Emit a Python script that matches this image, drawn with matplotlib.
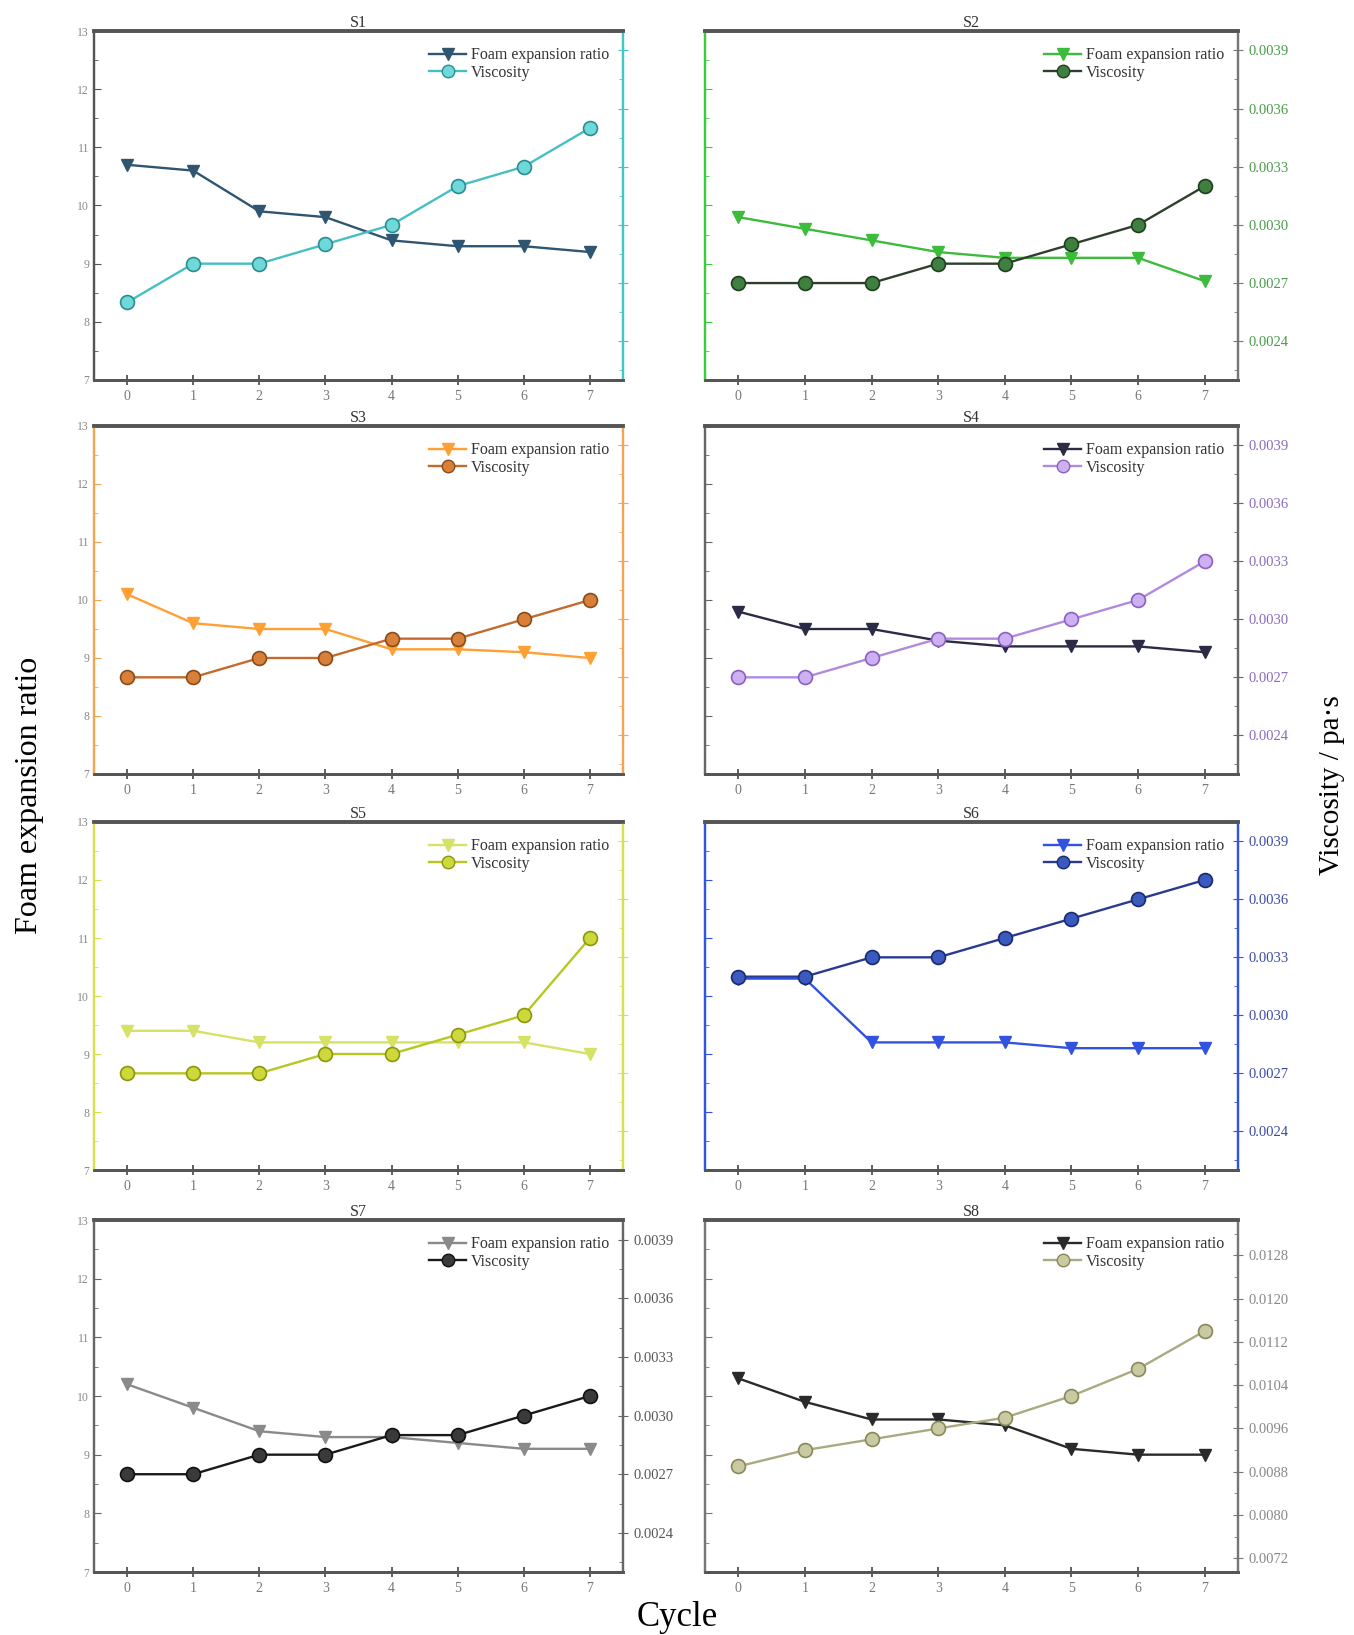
import matplotlib
matplotlib.use("Agg")
import matplotlib.pyplot as plt
from matplotlib.ticker import MultipleLocator, FormatStrFormatter, NullFormatter
from matplotlib.lines import Line2D

plt.rcParams['font.family'] = ['Liberation Serif', 'DejaVu Serif']

cycles = [0, 1, 2, 3, 4, 5, 6, 7]
panels = ["S1", "S2", "S3", "S4", "S5", "S6", "S7", "S8"]

foam_s1 = [10.7, 10.6, 9.9, 9.8, 9.4, 9.3, 9.3, 9.2]
foam_s2 = [9.8, 9.6, 9.4, 9.2, 9.1, 9.1, 9.1, 8.7]
foam_s3 = [10.1, 9.6, 9.5, 9.5, 9.15, 9.15, 9.1, 9.0]
foam_s4 = [9.8, 9.5, 9.5, 9.3, 9.2, 9.2, 9.2, 9.1]
foam_s5 = [9.4, 9.4, 9.2, 9.2, 9.2, 9.2, 9.2, 9.0]
foam_s6 = [10.3, 10.3, 9.2, 9.2, 9.2, 9.1, 9.1, 9.1]
foam_s7 = [10.2, 9.8, 9.4, 9.3, 9.3, 9.2, 9.1, 9.1]
foam_s8 = [10.3, 9.9, 9.6, 9.6, 9.5, 9.1, 9.0, 9.0]

visc_s1 = [0.0026, 0.0028, 0.0028, 0.0029, 0.0030, 0.0032, 0.0033, 0.0035]
visc_s2 = [0.0027, 0.0027, 0.0027, 0.0028, 0.0028, 0.0029, 0.0030, 0.0032]
visc_s3 = [0.0027, 0.0027, 0.0028, 0.0028, 0.0029, 0.0029, 0.0030, 0.0031]
visc_s4 = [0.0027, 0.0027, 0.0028, 0.0029, 0.0029, 0.0030, 0.0031, 0.0033]
visc_s5 = [0.0027, 0.0027, 0.0027, 0.0028, 0.0028, 0.0029, 0.0030, 0.0034]
visc_s6 = [0.0032, 0.0032, 0.0033, 0.0033, 0.0034, 0.0035, 0.0036, 0.0037]
visc_s7 = [0.0027, 0.0027, 0.0028, 0.0028, 0.0029, 0.0029, 0.0030, 0.0031]
visc_s8 = [0.0089, 0.0092, 0.0094, 0.0096, 0.0098, 0.0102, 0.0107, 0.0114]

foam_all = [foam_s1, foam_s2, foam_s3, foam_s4, foam_s5, foam_s6, foam_s7, foam_s8]
visc_all = [visc_s1, visc_s2, visc_s3, visc_s4, visc_s5, visc_s6, visc_s7, visc_s8]

# per-panel styling: foam colour, viscosity line, viscosity marker face, marker edge,
# left spine, right spine, right tick-label colour
styles = [
    dict(foam="#2f5571", vline="#46bfc2", vface="#6fd8d8", vedge="#2a8d92",
         lsp="#555555", rsp="#45c6c6", rlab=None),
    dict(foam="#3dbb3d", vline="#2f3f2f", vface="#3f7f3f", vedge="#1f3f1f",
         lsp="#3acc3a", rsp="#777777", rlab="#4a9a4a"),
    dict(foam="#ffa035", vline="#c46a2c", vface="#d8803a", vedge="#8a4a1a",
         lsp="#f2a655", rsp="#f2a655", rlab=None),
    dict(foam="#2b2b45", vline="#b08ade", vface="#cdb0f2", vedge="#8a60c0",
         lsp="#666666", rsp="#666666", rlab="#8a6ac0"),
    dict(foam="#d6e266", vline="#b8c622", vface="#cdd83a", vedge="#8a9610",
         lsp="#d8e050", rsp="#d8e050", rlab=None),
    dict(foam="#3252e0", vline="#2a3a90", vface="#3a5ac0", vedge="#1a2a70",
         lsp="#3355dd", rsp="#3355dd", rlab="#3a4aa8"),
    dict(foam="#8a8a8a", vline="#1a1a1a", vface="#3a3a3a", vedge="#111111",
         lsp="#666666", rsp="#666666", rlab="#555555"),
    dict(foam="#2a2a2a", vline="#aaaa80", vface="#cacaa2", vedge="#88885a",
         lsp="#777777", rsp="#777777", rlab="#888888"),
]

W, H = 1354, 1635
fig = plt.figure(figsize=(W / 100, H / 100), dpi=100)

col_x = [(94, 529), (705, 533)]
row_y = [(31, 349), (426, 348), (822, 348), (1220, 352)]

for i, name in enumerate(panels):
    r, c = divmod(i, 2)
    x0, w = col_x[c]
    y0, h = row_y[r]
    ax = fig.add_axes([x0 / W, 1 - (y0 + h) / H, w / W, h / H])
    ax2 = ax.twinx()
    st = styles[i]

    ax.plot(cycles, foam_all[i], color=st["foam"], lw=1.7, marker="v",
            ms=9, mfc=st["foam"], mec=st["foam"], zorder=3)
    ax2.plot(cycles, visc_all[i], color=st["vline"], lw=1.7, marker="o",
             ms=10, mfc=st["vface"], mec=st["vedge"], mew=1.2, zorder=3)

    ax.set_xlim(-0.5, 7.5)
    ax.set_ylim(7, 13)
    ax.set_xticks(cycles)
    ax.yaxis.set_major_locator(MultipleLocator(1))
    ax.yaxis.set_minor_locator(MultipleLocator(0.5))

    if i == 7:
        ax2.set_ylim(0.00695, 0.01345)
        ax2.yaxis.set_major_locator(MultipleLocator(0.0008))
        ax2.yaxis.set_minor_locator(MultipleLocator(0.0004))
    else:
        ax2.set_ylim(0.0022, 0.0040)
        ax2.yaxis.set_major_locator(MultipleLocator(0.0003))
        ax2.yaxis.set_minor_locator(MultipleLocator(0.00015))
    ax2.yaxis.set_major_formatter(FormatStrFormatter("%.4f"))

    ax.tick_params(axis="x", direction="inout", length=7, width=1.2,
                   colors="#444444", labelcolor="#777777", labelsize=10, pad=4)
    ax.tick_params(axis="y", which="major", direction="in", length=5,
                   color=st["lsp"], labelcolor="#888888", labelsize=8.5)
    ax.tick_params(axis="y", which="minor", direction="in", length=3,
                   color=st["lsp"])
    if c == 1:
        ax.yaxis.set_major_formatter(NullFormatter())

    ax2.tick_params(axis="y", which="major", direction="inout", length=7,
                    color=st["rsp"], labelcolor=st["rlab"] or "#888888",
                    labelsize=10.5, pad=4)
    ax2.tick_params(axis="y", which="minor", direction="in", length=3,
                    color=st["rsp"])
    if st["rlab"] is None:
        ax2.yaxis.set_major_formatter(NullFormatter())

    for a in (ax, ax2):
        a.spines["top"].set_color("#555555")
        a.spines["top"].set_linewidth(2.6)
        a.spines["bottom"].set_color("#555555")
        a.spines["bottom"].set_linewidth(2.0)
        a.spines["left"].set_color(st["lsp"])
        a.spines["left"].set_linewidth(1.6)
        a.spines["right"].set_color(st["rsp"])
        a.spines["right"].set_linewidth(1.6)

    ax.set_title(name, fontsize=11.5, pad=3, color="#333333")

    handles = [
        Line2D([], [], color=st["foam"], lw=1.7, marker="v", ms=8,
               mfc=st["foam"], mec=st["foam"]),
        Line2D([], [], color=st["vline"], lw=1.7, marker="o", ms=9,
               mfc=st["vface"], mec=st["vedge"]),
    ]
    ax2.legend(handles, ["Foam expansion ratio", "Viscosity"],
               loc="upper right", bbox_to_anchor=(0.995, 0.985), frameon=False,
               fontsize=11.5, handlelength=2.3, handletextpad=0.3,
               labelspacing=0.1, borderaxespad=0.3, labelcolor="#333333")

fig.text(30 / W, 1 - 795 / H, "Foam expansion ratio", rotation=90,
         ha="center", va="center", fontsize=23)
fig.text(1332 / W, 1 - 785 / H, "Viscosity / pa\u00b7s", rotation=90,
         ha="center", va="center", fontsize=21)
fig.text(677 / W, 1 - 1617 / H, "Cycle", ha="center", va="center",
         fontsize=25)

fig.savefig("out.png", dpi=100, facecolor="white")
